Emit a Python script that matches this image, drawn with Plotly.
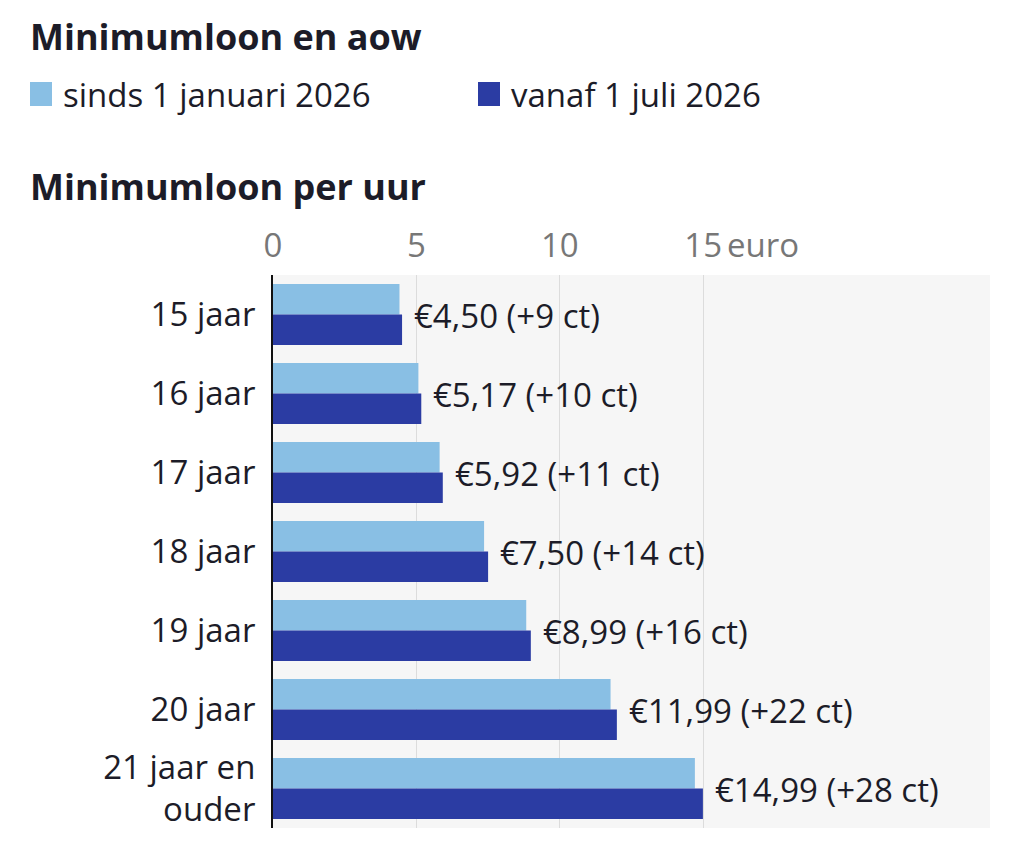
import plotly.graph_objects as go

# ---- data ----
categories = ["15 jaar", "16 jaar", "17 jaar", "18 jaar", "19 jaar", "20 jaar", "21 jaar en<br>ouder"]
series_names = ["sinds 1 januari 2026", "vanaf 1 juli 2026"]
values_jan = [4.41, 5.07, 5.81, 7.36, 8.83, 11.77, 14.71]
values_jul = [4.50, 5.17, 5.92, 7.50, 8.99, 11.99, 14.99]
increase_ct = [9, 10, 11, 14, 16, 22, 28]
tick_vals = [0, 5, 10, 15]
tick_text = ["0", "5", "10", "15"]
axis_unit = "euro"
title_text = "Minimumloon en aow"
subtitle_text = "Minimumloon per uur"

# ---- style ----
C_LIGHT = "#89bfe4"
C_DARK = "#2b3ca3"
FONT = "Open Sans"
TXT = "#1c1c28"
FS = 33

OFF = 8  # page body margin
W, H = 1024 - OFF, 857 - OFF
# target pixel box of the plot area in the screenshot: x 273..990, y 275..828
L = 273 - OFF
T = 275 - OFF
R = W - (990 - OFF)
B = H - (828 - OFF)
PW, PH = W - L - R, H - T - B


def px_x(X):
    return (X - OFF - L) / PW


def px_y(Y):
    return (T + PH - (Y - OFF)) / PH


fig = go.Figure()
fig.add_trace(go.Bar(y=categories, x=values_jan, orientation="h", name=series_names[0],
                     marker=dict(color=C_LIGHT, line=dict(width=0)), hoverinfo="skip"))
fig.add_trace(go.Bar(y=categories, x=values_jul, orientation="h", name=series_names[1],
                     marker=dict(color=C_DARK, line=dict(width=0)), hoverinfo="skip"))

annotations = []
for cat, v, inc in zip(categories, values_jul, increase_ct):
    label = "€" + f"{v:.2f}".replace(".", ",") + f" (+{inc} ct)"
    annotations.append(dict(x=v, y=cat, xref="x", yref="y", text=label, showarrow=False,
                            xanchor="left", yanchor="middle", xshift=10, yshift=-1,
                            font=dict(family=FONT, size=FS, color=TXT)))

# unit after last tick
annotations.append(dict(x=tick_vals[-1], y=px_y(244), xref="x", yref="paper", text=axis_unit,
                        showarrow=False, xanchor="left", yanchor="middle", xshift=22,
                        font=dict(family=FONT, size=FS, color="#777777")))

# titles
annotations.append(dict(x=px_x(28), y=px_y(37), xref="paper", yref="paper", text="<b>" + title_text + "</b>",
                        showarrow=False, xanchor="left", yanchor="middle",
                        font=dict(family=FONT, size=36, color=TXT)))
annotations.append(dict(x=px_x(28), y=px_y(187), xref="paper", yref="paper", text="<b>" + subtitle_text + "</b>",
                        showarrow=False, xanchor="left", yanchor="middle",
                        font=dict(family=FONT, size=36, color=TXT)))

# legend
shapes = []
for name, col, sx, tx in [(series_names[0], C_LIGHT, 30, 61), (series_names[1], C_DARK, 478, 509)]:
    shapes.append(dict(type="rect", xref="paper", yref="paper", x0=px_x(sx), x1=px_x(sx + 22),
                       y0=px_y(106), y1=px_y(82), fillcolor=col, line=dict(width=0), layer="above"))
    annotations.append(dict(x=px_x(tx), y=px_y(94), xref="paper", yref="paper", text=name,
                            showarrow=False, xanchor="left", yanchor="middle",
                            font=dict(family=FONT, size=FS, color=TXT)))

fig.update_layout(
    width=W, height=H,
    margin=dict(l=L, r=R, t=T, b=B, pad=0),
    paper_bgcolor="white", plot_bgcolor="#f6f6f6",
    barmode="group", bargap=0.23, bargroupgap=0,
    showlegend=False,
    font=dict(family=FONT, color=TXT),
    annotations=annotations, shapes=shapes,
)
fig.update_xaxes(range=[0, 25], side="top", tickvals=tick_vals, ticktext=tick_text,
                 showgrid=True, gridcolor="#dcdcdc", gridwidth=1, zeroline=False,
                 showline=False, ticks="", ticklabelstandoff=10,
                 tickfont=dict(family=FONT, size=FS, color="#777777"), fixedrange=True)
fig.update_yaxes(autorange="reversed", showline=True, linecolor="#111111", linewidth=2,
                 ticks="", showgrid=False, ticklabelstandoff=9,
                 tickfont=dict(family=FONT, size=FS, color=TXT), fixedrange=True)

fig.write_html("out.html", config={"displayModeBar": False})
